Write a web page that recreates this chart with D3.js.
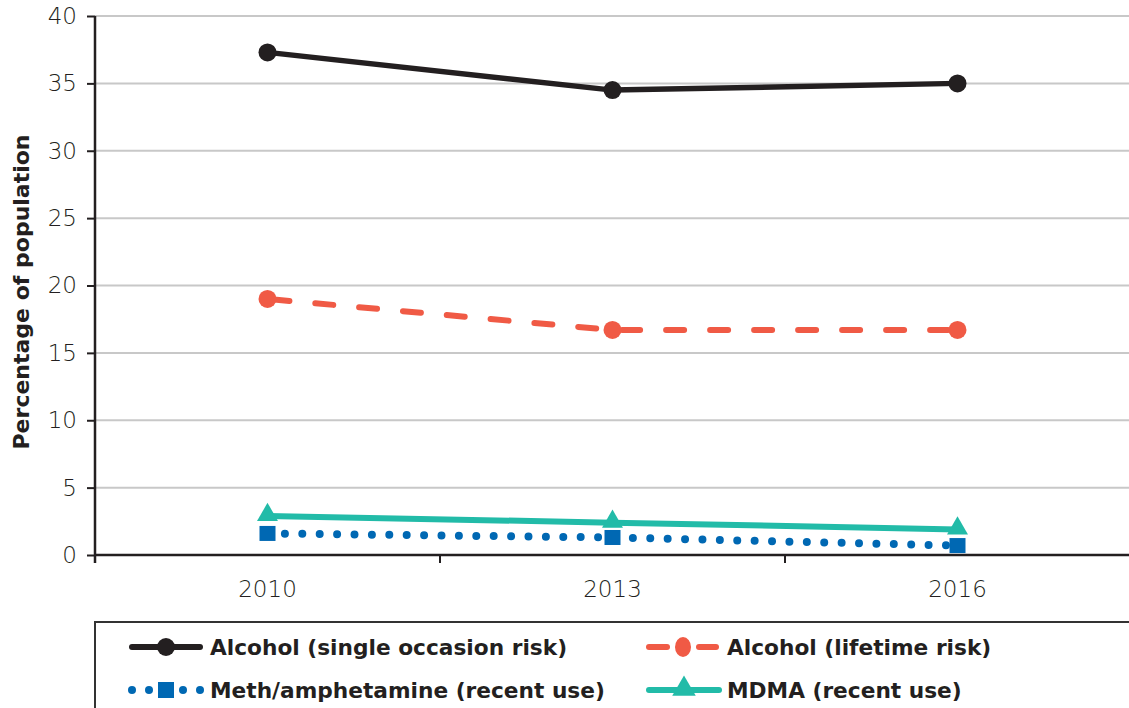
<!DOCTYPE html>
<html><head><meta charset="utf-8">
<script src="https://cdn.jsdelivr.net/npm/d3@7/dist/d3.min.js"></script>
<style>
body{margin:0;background:#fff;}
text{font-family:"DejaVu Sans",sans-serif;}
</style></head>
<body><svg id="c" width="1129" height="708"></svg>
<script>
const years = ["2010","2013","2016"];
const alcoholSingle = [37.3, 34.5, 35.0];
const alcoholLifetime = [19.0, 16.7, 16.7];
const methAmphetamine = [1.6, 1.3, 0.7];
const mdma = [2.9, 2.4, 1.9];
const yTicks = [0,5,10,15,20,25,30,35,40];
const seriesNames = ["Alcohol (single occasion risk)","Alcohol (lifetime risk)","Meth/amphetamine (recent use)","MDMA (recent use)"];

const svg = d3.select("#c");
const L=95, R=1130, T=16, B=555;
const x = d3.scaleBand().domain(years).range([L,R]);
const y = d3.scaleLinear().domain([0,40]).range([B,T]);

// gridlines
svg.append("g").selectAll("line").data(yTicks.filter(d=>d>0)).join("line")
  .attr("x1",L).attr("x2",R).attr("y1",d=>y(d)).attr("y2",d=>y(d))
  .attr("stroke","#c8c8c8").attr("stroke-width",2);

// y axis
const ya = svg.append("g").attr("transform",`translate(${L},0)`)
  .call(d3.axisLeft(y).tickValues(yTicks).tickSize(8).tickPadding(10));
ya.select(".domain").remove();
ya.selectAll(".tick line").attr("stroke","#231f20").attr("stroke-width",2);
ya.selectAll("text").attr("font-size",23).attr("font-weight",200).attr("fill","#231f20");
svg.append("line").attr("x1",L).attr("x2",L).attr("y1",T).attr("y2",B+8).attr("stroke","#231f20").attr("stroke-width",2.5);

// x axis
const xa = svg.append("g").attr("transform",`translate(0,${B})`)
  .call(d3.axisBottom(x).tickSize(0).tickPadding(26));
xa.select(".domain").remove();
xa.selectAll("text").attr("font-size",23).attr("font-weight",200).attr("fill","#231f20");
svg.append("line").attr("x1",L).attr("x2",R).attr("y1",B).attr("y2",B).attr("stroke","#231f20").attr("stroke-width",2.5);
svg.append("g").selectAll("line").data(years.slice(1)).join("line")
  .attr("x1",d=>x(d)).attr("x2",d=>x(d)).attr("y1",B).attr("y2",B+8)
  .attr("stroke","#231f20").attr("stroke-width",2);

// y label
svg.append("text").attr("transform",`translate(29,292) rotate(-90)`)
  .attr("text-anchor","middle").attr("font-size",22).attr("font-weight",700).attr("fill","#231f20")
  .text("Percentage of population");

const cx = d => x(d)+x.bandwidth()/2;
const line = d3.line().x(d=>cx(d.year)).y(d=>y(d.v));
const mk = arr => years.map((yr,i)=>({year:yr,v:arr[i]}));

const colBlack="#231f20", colRed="#f05a45", colBlue="#0068b3", colTeal="#22bba8";

// MDMA
svg.append("path").datum(mk(mdma)).attr("d",line).attr("fill","none").attr("stroke",colTeal).attr("stroke-width",6);
// Meth dotted
svg.append("path").datum(mk(methAmphetamine)).attr("d",line).attr("fill","none").attr("stroke",colBlue)
  .attr("stroke-width",8).attr("stroke-linecap","round").attr("stroke-dasharray","0,17.4").attr("stroke-dashoffset",-17.4);
svg.append("g").selectAll("rect").data(mk(methAmphetamine)).join("rect")
  .attr("x",d=>cx(d.year)-8).attr("y",d=>y(d.v)-7.5).attr("width",16).attr("height",15).attr("fill",colBlue);
const tri = d3.symbol().type(d3.symbolTriangle).size(190);
svg.append("g").selectAll("path").data(mk(mdma)).join("path")
  .attr("transform",d=>`translate(${cx(d.year)},${y(d.v)-1})`).attr("d",tri).attr("fill",colTeal);

// Alcohol lifetime dashed
svg.append("path").datum(mk(alcoholLifetime)).attr("d",line).attr("fill","none").attr("stroke",colRed)
  .attr("stroke-width",6).attr("stroke-linecap","round").attr("stroke-dasharray","18,26").attr("stroke-dashoffset",-4);
svg.append("g").selectAll("circle").data(mk(alcoholLifetime)).join("circle")
  .attr("cx",d=>cx(d.year)).attr("cy",d=>y(d.v)).attr("r",9).attr("fill",colRed);

// Alcohol single
svg.append("path").datum(mk(alcoholSingle)).attr("d",line).attr("fill","none").attr("stroke",colBlack).attr("stroke-width",5.5);
svg.append("g").selectAll("circle").data(mk(alcoholSingle)).join("circle")
  .attr("cx",d=>cx(d.year)).attr("cy",d=>y(d.v)).attr("r",9).attr("fill",colBlack);

// Legend
svg.append("rect").attr("x",L).attr("y",622).attr("width",1200).attr("height",200)
  .attr("fill","none").attr("stroke","#333").attr("stroke-width",2);
const leg = [
  {name:seriesNames[0], x:130, y:647, type:"circle", color:colBlack},
  {name:seriesNames[1], x:647, y:647, type:"circleDash", color:colRed},
  {name:seriesNames[2], x:130, y:690, type:"square", color:colBlue},
  {name:seriesNames[3], x:647, y:690, type:"tri", color:colTeal}
];
leg.forEach(d=>{
  const g = svg.append("g").attr("transform",`translate(${d.x},${d.y})`);
  if(d.type==="circle"){
    g.append("line").attr("x1",2).attr("x2",70).attr("stroke",d.color).attr("stroke-width",6).attr("stroke-linecap","round");
    g.append("circle").attr("cx",36).attr("r",9).attr("fill",d.color);
  } else if(d.type==="circleDash"){
    g.append("line").attr("x1",2).attr("x2",20).attr("stroke",d.color).attr("stroke-width",6).attr("stroke-linecap","round");
    g.append("line").attr("x1",52).attr("x2",69).attr("stroke",d.color).attr("stroke-width",6).attr("stroke-linecap","round");
    g.append("ellipse").attr("cx",36).attr("rx",8).attr("ry",10).attr("fill",d.color);
  } else if(d.type==="square"){
    [2,19,53,70].forEach(px=>g.append("circle").attr("cx",px).attr("r",4).attr("fill",d.color));
    g.append("rect").attr("x",28).attr("y",-8).attr("width",16).attr("height",16).attr("fill",d.color);
  } else {
    g.append("line").attr("x1",2).attr("x2",72).attr("stroke",d.color).attr("stroke-width",6).attr("stroke-linecap","round");
    g.append("path").attr("transform","translate(37,-1)").attr("d",d3.symbol().type(d3.symbolTriangle).size(240)).attr("fill",d.color);
  }
  g.append("text").attr("x",80).attr("y",7.5).attr("font-size",21.7).attr("font-weight",700).attr("fill","#231f20").text(d.name);
});
</script></body></html>
